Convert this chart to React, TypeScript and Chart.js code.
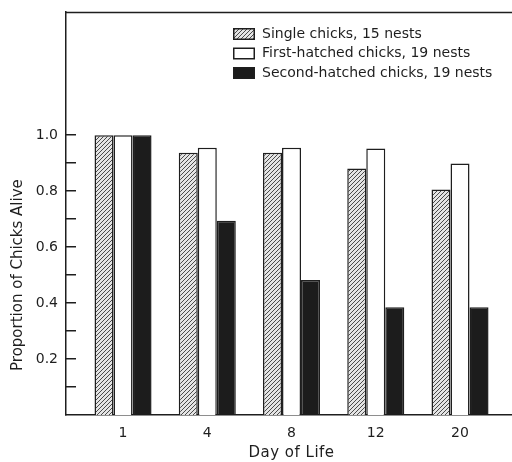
import React, { useEffect, useRef } from 'react';
import { Chart, registerables } from 'chart.js';

Chart.register(...registerables);

const categories = ['1', '4', '8', '12', '20'];
const seriesLabels = [
  'Single chicks, 15 nests',
  'First-hatched chicks, 19 nests',
  'Second-hatched chicks, 19 nests',
];
const singleChicks = [1.0, 0.937, 0.937, 0.881, 0.806];
const firstHatched = [1.0, 0.955, 0.955, 0.952, 0.899];
const secondHatched = [1.0, 0.694, 0.482, 0.385, 0.385];
const yTickValues = [0.1, 0.2, 0.3, 0.4, 0.5, 0.6, 0.7, 0.8, 0.9, 1.0];
const yTickLabels = ['0.2', '0.4', '0.6', '0.8', '1.0'];
const xTitle = 'Day of Life';
const yTitle = 'Proportion of Chicks Alive';

const INK = '#1e1e1e';
const FONT = '"DejaVu Sans", sans-serif';

function makeHatch(ctx: CanvasRenderingContext2D): CanvasPattern | string {
  const c = document.createElement('canvas');
  c.width = 4;
  c.height = 4;
  const p = c.getContext('2d');
  if (!p) return '#999';
  p.fillStyle = '#e4e4e4';
  p.fillRect(0, 0, 4, 4);
  p.strokeStyle = '#4a4a4a';
  p.lineWidth = 1;
  p.beginPath();
  p.moveTo(0, 4);
  p.lineTo(4, 0);
  p.moveTo(-1, 1);
  p.lineTo(1, -1);
  p.moveTo(3, 5);
  p.lineTo(5, 3);
  p.stroke();
  return ctx.createPattern(c, 'repeat') || '#999';
}

const framePlugin = {
  id: 'frameAndLegend',
  afterDraw(chart: any) {
    const ctx: CanvasRenderingContext2D = chart.ctx;
    const area = chart.chartArea;
    ctx.save();
    // top frame line
    ctx.strokeStyle = INK;
    ctx.lineWidth = 1.5;
    ctx.beginPath();
    ctx.moveTo(area.left, area.top + 0.5);
    ctx.lineTo(area.right, area.top + 0.5);
    ctx.stroke();

    // x title centred under the categories
    const xs = chart.scales.x;
    ctx.fillStyle = INK;
    ctx.font = `15px ${FONT}`;
    ctx.textAlign = 'center';
    ctx.textBaseline = 'middle';
    (ctx as any).letterSpacing = '0.5px';
    ctx.fillText(xTitle, xs.getPixelForValue((categories.length - 1) / 2), 453);
    (ctx as any).letterSpacing = '0px';

    // y title centred on 0..1 range
    const ys = chart.scales.y;
    const cy = (ys.getPixelForValue(0) + ys.getPixelForValue(1)) / 2;
    ctx.translate(18, cy);
    ctx.rotate(-Math.PI / 2);
    ctx.fillText(yTitle, 0, 0);
    ctx.restore();

    // legend
    ctx.save();
    ctx.font = `14px ${FONT}`;
    ctx.textBaseline = 'middle';
    ctx.textAlign = 'left';
    const x0 = 233;
    const y0 = 34;
    const gap = 19.5;
    chart.data.datasets.forEach((ds: any, i: number) => {
      const y = y0 + i * gap;
      ctx.fillStyle = ds.backgroundColor;
      ctx.fillRect(x0, y - 6, 22, 12);
      ctx.strokeStyle = INK;
      ctx.lineWidth = 1.5;
      ctx.strokeRect(x0 + 0.75, y - 5.25, 20.5, 10.5);
      ctx.fillStyle = INK;
      ctx.fillText(ds.label, 262, y);
    });
    ctx.restore();
  },
};

export default function App() {
  const ref = useRef<HTMLCanvasElement | null>(null);

  useEffect(() => {
    document.body.style.margin = '0';
    const canvas = ref.current;
    if (!canvas) return;
    const ctx = canvas.getContext('2d');
    if (!ctx) return;
    const hatch = makeHatch(ctx);
    const toPoints = (arr: number[]) => arr.map((v, i) => ({ x: i, y: v }));

    const chart = new Chart(ctx, {
      type: 'bar',
      data: {
        datasets: [
          {
            label: seriesLabels[0],
            data: toPoints(singleChicks),
            backgroundColor: hatch as any,
            borderColor: INK,
            borderWidth: 1.5,
          },
          {
            label: seriesLabels[1],
            data: toPoints(firstHatched),
            backgroundColor: '#ffffff',
            borderColor: INK,
            borderWidth: 1.5,
          },
          {
            label: seriesLabels[2],
            data: toPoints(secondHatched),
            backgroundColor: '#1c1c1c',
            borderColor: INK,
            borderWidth: 1.5,
          },
        ],
      },
      options: {
        animation: false,
        responsive: true,
        maintainAspectRatio: false,
        categoryPercentage: 0.677,
        barPercentage: 1.0,
        layout: { padding: { top: 12, right: 0, bottom: 0, left: 0 } },
        plugins: {
          legend: { display: false },
          tooltip: { enabled: false },
        },
        scales: {
          x: {
            type: 'linear',
            min: -0.677,
            max: 4.617,
            offset: false,
            grid: { display: false, offset: false },
            border: { display: true, color: INK, width: 1.5 },
            afterBuildTicks: (scale: any) => {
              scale.ticks = categories.map((_, i) => ({ value: i }));
            },
            afterFit: (scale: any) => {
              scale.height = 47;
              scale.paddingLeft = 0;
              scale.paddingRight = 0;
            },
            ticks: {
              autoSkip: false,
              maxRotation: 0,
              padding: 2,
              color: INK,
              font: { family: FONT, size: 14 },
              callback: (v: any) => categories[Math.round(Number(v))] ?? '',
            },
            title: { display: false },
          },
          y: {
            type: 'linear',
            min: 0,
            max: 1.44,
            position: 'left',
            afterBuildTicks: (scale: any) => {
              scale.ticks = yTickValues.map((v) => ({ value: v }));
            },
            afterFit: (scale: any) => {
              scale.width = 66;
              scale.paddingTop = 0;
              scale.paddingBottom = 0;
            },
            grid: {
              drawOnChartArea: false,
              drawTicks: true,
              tickLength: -10,
              color: INK,
              lineWidth: 1.5,
            },
            border: { display: true, color: INK, width: 1.5 },
            ticks: {
              autoSkip: false,
              padding: 18,
              color: INK,
              font: { family: FONT, size: 14 },
              callback: (v: any) => {
                const s = Number(v).toFixed(1);
                return yTickLabels.includes(s) ? s : '';
              },
            },
          },
        },
      },
      plugins: [framePlugin],
    } as any);

    return () => chart.destroy();
  }, []);

  return (
    <div style={{ position: 'relative', width: 512, height: 462 }}>
      <canvas ref={ref} />
    </div>
  );
}
